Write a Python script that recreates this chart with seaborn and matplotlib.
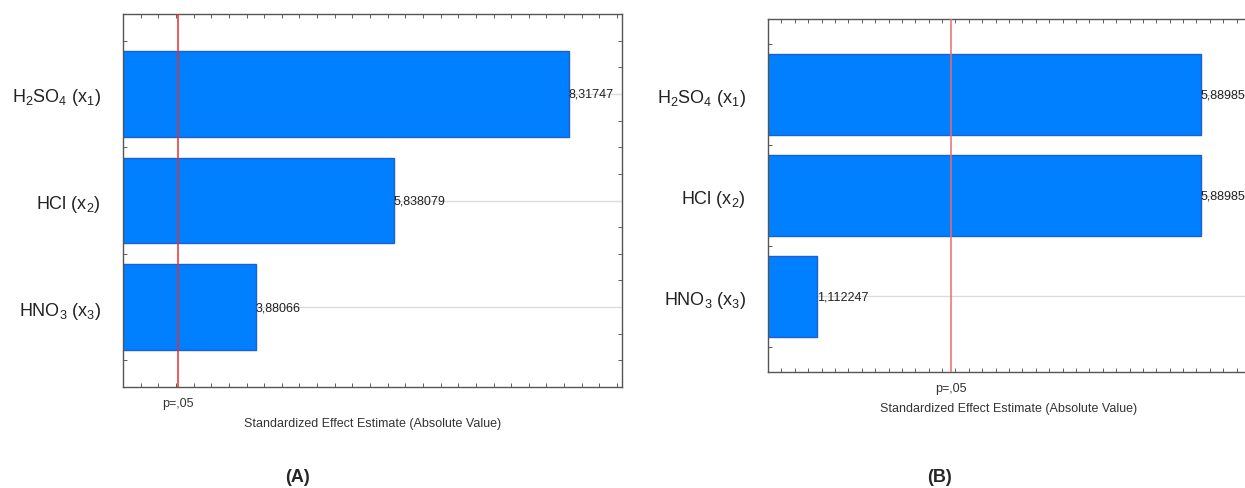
import matplotlib
matplotlib.use("Agg")
import matplotlib.pyplot as plt
from matplotlib.ticker import MultipleLocator
import seaborn as sns

sns.set_style("white")
plt.rcParams['font.family'] = ['Liberation Sans', 'DejaVu Sans']
plt.rcParams['mathtext.default'] = 'regular'

factors = [r"H$_2$SO$_4$ (x$_1$)", r"HCl (x$_2$)", r"HNO$_3$ (x$_3$)"]
effects_a = [8.31747, 5.838079, 3.88066]
effects_b = [5.88985, 5.88985, 1.112247]
p05 = 2.776445  # t crit, df=4

W, H = 1245, 489
fig = plt.figure(figsize=(W / 100, H / 100), dpi=100)

# pixel boxes: left, top, right, bottom
boxes = [(123, 15, 622, 388), (768, 20, 1250, 373)]
xlims = [(2.0, 9.07), (0.5, 6.5)]
minor_steps = [0.25, 1 / 6]
red = ["#e8302c", "#f06a6a"]
panels = ["(A)", "(B)"]
panel_x = [297, 940]

for i, effects in enumerate([effects_a, effects_b]):
    l, t, r, b = boxes[i]
    ax = fig.add_axes([l / W, 1 - b / H, (r - l) / W, (b - t) / H])
    sns.barplot(x=effects, y=factors, orient="h", ax=ax, color="#007fff",
                edgecolor="#1f5fd6", linewidth=1, width=0.8, saturation=1)
    ax.set_xlim(*xlims[i])
    ax.set_ylim(2.75, -0.75)
    ax.set_axisbelow(True)
    ax.yaxis.grid(True, color="#dcdcdc", lw=1)
    ax.xaxis.grid(False)
    ax.axvline(p05, color=red[i], lw=1.1, zorder=5)

    for j, v in enumerate(effects):
        ax.text(v, j, str(v).replace(".", ","), ha="left", va="center",
                fontsize=9, color="#222222", zorder=6)

    ax.set_xticks([p05])
    ax.set_xticklabels(["p=,05"], fontsize=9, color="#333333")
    ax.xaxis.set_minor_locator(MultipleLocator(minor_steps[i]))
    ax.yaxis.set_minor_locator(MultipleLocator(0.25))
    ax.tick_params(axis="x", which="major", length=0, pad=7)
    ax.tick_params(axis="y", which="major", length=3, direction="in",
                   labelsize=13, pad=16, colors="#222222")
    ax.tick_params(which="minor", length=3, direction="in", color="#444444",
                   top=True, right=True, bottom=True, left=True)
    for s in ax.spines.values():
        s.set_color("#555555")
        s.set_linewidth(1)
    ax.set_xlabel("Standardized Effect Estimate (Absolute Value)",
                  fontsize=9, color="#333333", labelpad=6)
    ax.set_ylabel("")
    fig.text(panel_x[i] / W, 1 - 478 / H, panels[i], ha="center", va="center",
             fontsize=13, fontweight="bold")

fig.savefig("out.png", dpi=100)
